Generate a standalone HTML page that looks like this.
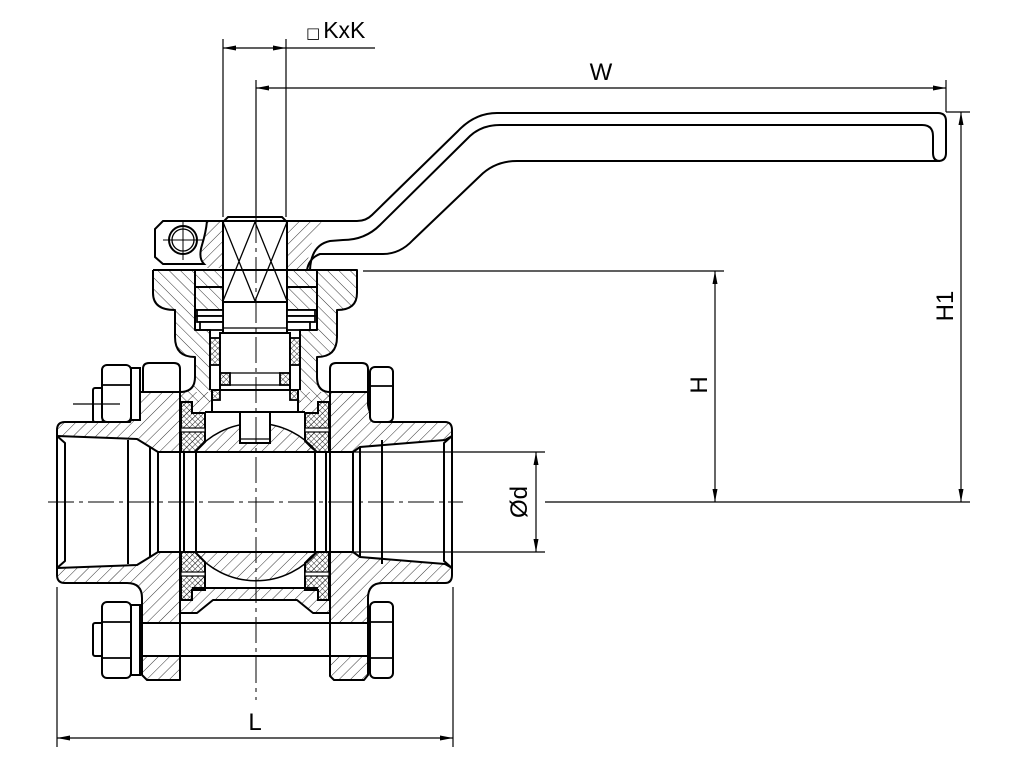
<!DOCTYPE html>
<html><head><meta charset="utf-8">
<style>
html,body{margin:0;padding:0;background:#fff;}
svg{display:block;}
text{font-family:"Liberation Sans",Arial,sans-serif;fill:#000;}
</style></head><body>
<svg width="1010" height="764" viewBox="0 0 1010 764" xmlns="http://www.w3.org/2000/svg">
<defs>
<pattern id="hA" patternUnits="userSpaceOnUse" width="8" height="8" patternTransform="rotate(45)"><line x1="0" y1="0" x2="0" y2="8" stroke="#000" stroke-width="0.8"/></pattern>
<pattern id="hB" patternUnits="userSpaceOnUse" width="8" height="8" patternTransform="rotate(-45)"><line x1="0" y1="0" x2="0" y2="8" stroke="#000" stroke-width="0.8"/></pattern>
<pattern id="xh" patternUnits="userSpaceOnUse" width="4" height="4" patternTransform="rotate(45)"><path d="M0,0V4M0,0H4" stroke="#000" stroke-width="0.8" fill="none"/></pattern>
</defs>

<!-- ================= FILLS ================= -->
<path d="M65,422 L130,422 L140,398 L140,392 L180,392 L180,680 L147,680 L142,675 L142,598 Q142,583 127,583 L65,583 Q57,583 57,575 L57,430 Q57,422 65,422 Z" fill="url(#hA)"/>
<path d="M330,392 L368,392 L368,405 Q370,420 385,422 L445,422 Q452,422 452,430 L452,575 Q452,583 445,583 L383,583 Q368,583 368,598 L368,675 L364,680 L334,680 L330,676 Z" fill="url(#hA)"/>
<rect x="180" y="392" width="150" height="208" fill="url(#hA)"/>
<path d="M180,600 L330,600 L330,613 L313,613 L297,600 L213,600 L197,613 L180,613 Z" fill="url(#hA)"/>
<path d="M153,270 L357,270 L357,293 Q357,310 337,310 L337,337 Q337,357 317,357 L317,377 Q317,392 330,392 L330,402 L180,402 L180,392 Q195,392 195,377 L195,357 Q175,357 175,337 L175,310 Q153,310 153,293 Z" fill="url(#hB)"/>

<path d="M195,270 L317,270 L317,330 L300,330 L300,390 L298,390 L298,412 L212,412 L212,390 L210,390 L210,330 L195,330 Z" fill="#fff"/>
<rect x="205" y="412" width="100" height="40" fill="#fff"/>
<rect x="205" y="552" width="101" height="36" fill="#fff"/>
<rect x="158" y="452" width="195" height="100" fill="#fff"/>
<path d="M57,436 L137,439 L150,447 L158,452 L158,552 L150,557 L137,565 L57,568 Z" fill="#fff"/>
<path d="M353,452 L360,447 L445,440 L452,436 L452,568 L445,564 L360,557 L353,552 Z" fill="#fff"/>
<rect x="142" y="623" width="38" height="33" fill="#fff"/>
<rect x="330" y="623" width="38" height="33" fill="#fff"/>

<path d="M195,452 A79,79 0 0 1 317,452 Z" fill="url(#hA)" stroke="#000" stroke-width="1.5"/>
<path d="M195,552 A79,79 0 0 0 317,552 Z" fill="url(#hA)" stroke="#000" stroke-width="1.5"/>

<g fill="url(#xh)" stroke="#000" stroke-width="2">
<path d="M181,402 L192,402 L192,413 L205,413 L205,442 L200,447 L195,452 L181,452 Z"/>
<path d="M329,402 L318,402 L318,413 L305,413 L305,441 L311,447 L317,452 L329,452 Z"/>
<path d="M181,552 L195,552 L200,557 L205,562 L205,590 L192,590 L192,600 L181,600 Z"/>
<path d="M329,552 L317,552 L311,557 L305,563 L305,590 L318,590 L318,600 L329,600 Z"/>
</g>
<g fill="#fff" stroke="#000" stroke-width="1.2">
<rect x="181" y="428" width="24" height="4"/>
<rect x="305" y="428" width="24" height="4"/>
<rect x="181" y="572" width="24" height="4"/>
<rect x="305" y="572" width="24" height="4"/>
</g>

<g fill="url(#hB)" stroke="#000" stroke-width="2">
<rect x="195" y="270" width="28" height="17"/>
<rect x="195" y="287" width="28" height="23"/>
<rect x="287" y="270" width="30" height="17"/>
<rect x="287" y="287" width="30" height="23"/>
</g>

<g fill="#fff" stroke="#000" stroke-width="2">
<rect x="220" y="333" width="70" height="57"/>
<rect x="223" y="302" width="64" height="31"/>
<path d="M228,217 L282,217 L287,222 L287,302 L223,302 L223,222 Z"/>
<rect x="212" y="390" width="86" height="22"/>
<rect x="240" y="412" width="30" height="31"/>
</g>
<g stroke="#000" stroke-width="1.3" fill="none">
<path d="M223,222 L255,301 M255,222 L223,301 M255,222 L287,301 M287,222 L255,301"/>
<path d="M223,328 H287 M230,373 H280 M230,385 H280 M240,439 H270"/>
</g>
<g fill="url(#xh)" stroke="#000" stroke-width="1.8">
<rect x="210" y="338" width="10" height="27"/>
<rect x="290" y="338" width="10" height="27"/>
<rect x="220" y="373" width="10" height="12"/>
<rect x="280" y="373" width="10" height="12"/>
<rect x="212" y="390" width="8" height="10"/>
<rect x="290" y="390" width="8" height="10"/>
</g>
<g fill="#fff" stroke="#000" stroke-width="1.8">
<rect x="197" y="310" width="26" height="6"/>
<rect x="197" y="316" width="26" height="6"/>
<rect x="200" y="322" width="23" height="8"/>
<rect x="287" y="310" width="28" height="6"/>
<rect x="287" y="316" width="28" height="6"/>
<rect x="287" y="322" width="23" height="8"/>
</g>

<path d="M207,221 L223,221 L223,268 L204,268 Q198,258 202,245 Q206,232 207,221 Z" fill="url(#hA)"/>
<path d="M287,221 L322,221 Q309,240 307,270 L287,270 Z" fill="url(#hA)"/>

<path d="M163,221 L207,221 Q206,232 202,245 Q198,258 204,264 L163,264 L155,257 L155,229 Z" fill="#fff" stroke="#000" stroke-width="2"/>
<circle cx="183" cy="240" r="14" fill="none" stroke="#000" stroke-width="2"/>
<circle cx="183" cy="240" r="11" fill="none" stroke="#000" stroke-width="1.3"/>
<path d="M163,240 H203 M183,222 V260" stroke="#000" stroke-width="1"/>

<g fill="#fff" stroke="#000" stroke-width="2">
<path d="M143,392 L143,369 Q143,363 149,363 L174,363 Q180,363 180,369 L180,392 Z"/>
<path d="M330,392 L330,369 Q330,363 336,363 L362,363 Q368,363 368,369 L368,392 Z"/>
</g>

<g fill="none" stroke="#000" stroke-width="2" stroke-linejoin="round">
<path d="M65,422 L130,422 L140,398 L140,392 L180,392 L180,680 L147,680 L142,675 L142,598 Q142,583 127,583 L65,583 Q57,583 57,575 L57,430 Q57,422 65,422 Z"/>
<path d="M330,392 L368,392 L368,405 Q370,420 385,422 L445,422 Q452,422 452,430 L452,575 Q452,583 445,583 L383,583 Q368,583 368,598 L368,675 L364,680 L334,680 L330,676 Z"/>
<path d="M153,270 L357,270 L357,293 Q357,310 337,310 L337,337 Q337,357 317,357 L317,377 Q317,392 330,392 M180,392 Q195,392 195,377 L195,357 Q175,357 175,337 L175,310 Q153,310 153,293 L153,270"/>
<path d="M195,270 V330 H210 V390 M317,270 V330 H300 V390"/>
<path d="M205,412 H305"/>
<path d="M180,600 L180,613 L197,613 L213,600 L297,600 L313,613 L330,613 M192,588 H318"/>
<path d="M158,452 H353 M158,552 H353"/>
<path d="M57,436 L137,439 L150,447 L158,452 M57,568 L137,565 L150,557 L158,552"/>
<path d="M57,436 L65,443 V561 L57,568 M128,440 V564 M150,447 V557 M158,452 V552"/>
<path d="M353,452 L360,447 L445,440 L452,436 M353,552 L360,557 L445,564 L452,568"/>
<path d="M452,436 L444,443 V561 L452,568 M382,440 V564 M360,447 V557 M353,452 V552"/>
<path d="M184,452 V552 M196,452 V552 M315,452 V552 M326,452 V552"/>
<path d="M163,221 H357 Q366,221 372,215 L458,131 Q475,113 497,113 L938,113 Q946,113 946,121 L946,153 Q946,161 938,161 L517,161 Q495,161 480,176 L413,240 Q400,254 383,254 L320,254 Q309,258 307,270"/>
<path d="M310,270 Q311,245 330,241 L343,240 Q365,240 380,225 L470,136 Q482,125 500,125 L922,125 Q933,125 933,136 L933,153 Q933,161 940,161"/>
<path d="M102,623 H370 M102,656 H370"/>
</g>

<g fill="#fff" stroke="#000" stroke-width="2">
<rect x="93" y="388" width="10" height="34" rx="2"/>
<rect x="131" y="368" width="9" height="52"/>
<rect x="102" y="365" width="29" height="57" rx="5"/>
<rect x="370" y="367" width="23" height="55" rx="5"/>
<rect x="93" y="623" width="10" height="33" rx="2"/>
<rect x="131" y="605" width="9" height="70"/>
<rect x="102" y="602" width="29" height="76" rx="5"/>
<rect x="370" y="602" width="23" height="76" rx="5"/>
</g>
<path d="M102,385 H131 M370,386 H393 M102,622 H131 M102,658 H131 M370,622 H393 M370,658 H393" stroke="#000" stroke-width="1.8"/>
<path d="M73,404 H120" stroke="#000" stroke-width="1.2"/>

<g stroke="#000" stroke-width="1" fill="none">
<path d="M48,502 H463" stroke-dasharray="26,5,4,5"/>
<path d="M256,217 V700" stroke-dasharray="26,5,4,5"/>
</g>

<g stroke="#000" stroke-width="1.2" fill="none">
<path d="M223,39 V217 M286,39 V217 M256,80 V217"/>
<path d="M223,48 H375"/>
<path d="M256,88 H946 M946,80 V112"/>
<path d="M946,112 H970 M961,112 V502"/>
<path d="M545,502 H970"/>
<path d="M363,271 H724 M715,271 V502"/>
<path d="M353,452 H545 M353,552 H545 M536,452 V552"/>
<path d="M57,587 V747 M453,587 V747 M57,738 H453"/>
</g>
<g fill="#000">
<polygon points="223,48 236,45.5 236,50.5"/>
<polygon points="286,48 273,45.5 273,50.5"/>
<polygon points="256,88 269,85.5 269,90.5"/>
<polygon points="946,88 933,85.5 933,90.5"/>
<polygon points="961,112 958.5,125 963.5,125"/>
<polygon points="961,502 958.5,489 963.5,489"/>
<polygon points="715,271 712.5,284 717.5,284"/>
<polygon points="715,502 712.5,489 717.5,489"/>
<polygon points="536,452 533.5,465 538.5,465"/>
<polygon points="536,552 533.5,539 538.5,539"/>
<polygon points="57,738 70,735.5 70,740.5"/>
<polygon points="453,738 440,735.5 440,740.5"/>
</g>

<text x="306" y="38" font-size="23"><tspan font-size="15" font-family="DejaVu Sans, sans-serif">□</tspan><tspan dx="3">KxK</tspan></text>
<text x="601" y="80" font-size="24" text-anchor="middle">W</text>
<text transform="translate(953,306) rotate(-90)" font-size="24" text-anchor="middle">H1</text>
<text transform="translate(707,385) rotate(-90)" font-size="24" text-anchor="middle">H</text>
<text transform="translate(527,502) rotate(-90)" font-size="24" text-anchor="middle">Ød</text>
<text x="255" y="730" font-size="24" text-anchor="middle">L</text>
</svg>
</body></html>
